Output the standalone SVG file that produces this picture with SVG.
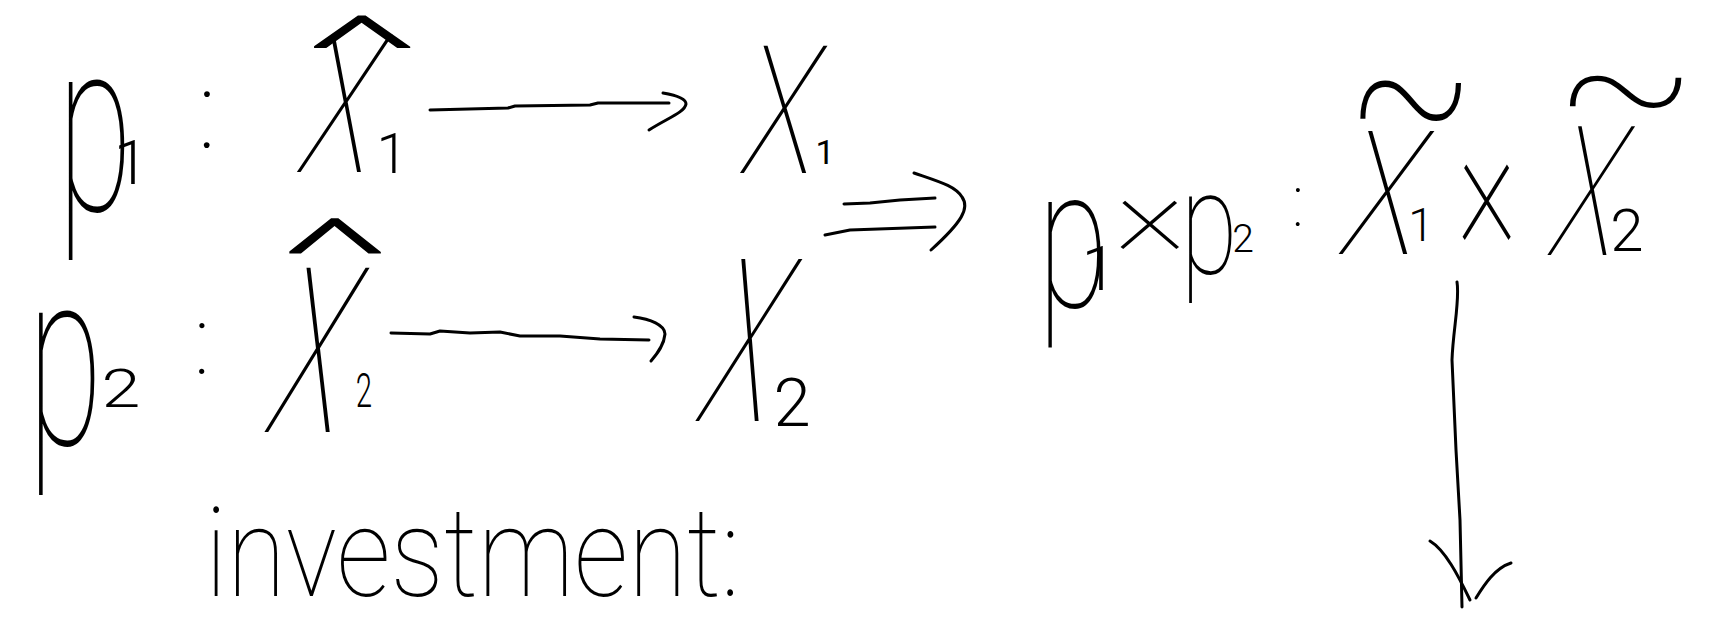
<svg xmlns="http://www.w3.org/2000/svg" width="1714" height="633" viewBox="0 0 1714 633">
<style>
.t{font-family:Roboto,"Noto Sans","DejaVu Sans",sans-serif;font-weight:100;fill:#000;text-anchor:middle}
.s{font-weight:300}
.c{fill:none;stroke:#000;stroke-width:3;stroke-linecap:round;stroke-linejoin:round}
</style>
<rect width="1714" height="633" fill="#fff"/>
<g id="p1">
<text class="t" font-size="244" transform="translate(95,211) scale(0.56,1)">p</text>
<text class="t s" font-size="62" transform="translate(131,184)">1</text>
<text class="t" font-size="108" transform="translate(207,148)">:</text>
</g>
<g id="X1hat">
<text class="t" font-size="193" transform="translate(329,172) skewX(-13.5) scale(0.61,1)">X</text>
<text class="t" font-size="264" transform="translate(361,211) scale(1.48,1)">ˆ</text>
<text class="t s" font-size="56" transform="translate(392,173)">1</text>
</g>
<g id="X1">
<text class="t" font-size="179" transform="translate(773,173) skewX(-10) scale(0.68,1)">X</text>
<text class="t" font-size="34" style="font-weight:400" transform="translate(825,164)">1</text>
</g>
<g id="p2">
<text class="t" font-size="248" transform="translate(65,445) scale(0.55,1)">p</text>
<text class="t s" font-size="54" transform="translate(121,407) scale(1.3,1)">2</text>
<text class="t" font-size="96" transform="translate(202,374)">:</text>
</g>
<g id="X2hat">
<text class="t" font-size="231" transform="translate(297,432) skewX(-14) scale(0.52,1)">X</text>
<text class="t" font-size="286" transform="translate(334,430) scale(1.3,1)">ˆ</text>
<text class="t s" font-size="49" transform="translate(364,407) scale(0.6,1)">2</text>
</g>
<g id="X2">
<text class="t" font-size="228" transform="translate(727,421) skewX(-15.5) scale(0.51,1)">X</text>
<text class="t s" font-size="67" transform="translate(792,426)">2</text>
</g>
<g id="product">
<text class="t" font-size="198" transform="translate(1073,307) scale(0.65,1)">p</text>
<text class="t s" font-size="62" transform="translate(1099,290)">1</text>
<text class="t" font-size="118" transform="translate(1150,249) scale(1.2,1)">×</text>
<text class="t" font-size="145" transform="translate(1209,274) scale(0.72,1)">p</text>
<text class="t s" font-size="39" transform="translate(1243,252)">2</text>
<text class="t" font-size="73" transform="translate(1298,226)">:</text>
<text class="t" font-size="173" transform="translate(1373,254) skewX(-13) scale(0.73,1)">X</text>
<text class="t" font-size="250" transform="translate(1411,175) scale(0.76,1)">~</text>
<text class="t s" font-size="46" transform="translate(1421,241)">1</text>
<text class="t" font-size="185" transform="translate(1487,240) scale(0.63,1)">×</text>
<text class="t" font-size="181" transform="translate(1577,255) skewX(-13) scale(0.6,1)">X</text>
<text class="t" font-size="200" transform="translate(1626,151) scale(1.05,1)">~</text>
<text class="t s" font-size="60" transform="translate(1627,251)">2</text>
</g>
<g id="label">
<text class="t" font-size="125" x="205" y="596" textLength="535" lengthAdjust="spacingAndGlyphs" style="text-anchor:start">investment:</text>
</g>
<g id="connectors">
<path class="c" d="M430,110 L508,108 L515,106 L590,105 L598,103 L669,103"/>
<path class="c" d="M663,93 C675,95 686,98 686,104 C685,112 668,118 649,130"/>
<path class="c" d="M391,333 L430,334 L440,331 L470,333 L500,332 L520,336 L560,336 L600,339 L649,340"/>
<path class="c" d="M634,317 C650,319 665,325 665,334 C664,345 658,353 651,361"/>
<path class="c" d="M844,204 L870,203 L900,200 L935,198 M825,235 L850,230 L935,227"/>
<path class="c" d="M914,173 C940,182 955,186 962,197 C970,208 962,222 931,250"/>
<path class="c" d="M1457,282 C1460,300 1453,330 1452,360 L1456,450 L1460,520 L1462,607"/>
<path class="c" d="M1430,541 C1445,550 1458,575 1470,600 M1511,563 C1495,568 1484,585 1476,598"/>
</g>
</svg>
